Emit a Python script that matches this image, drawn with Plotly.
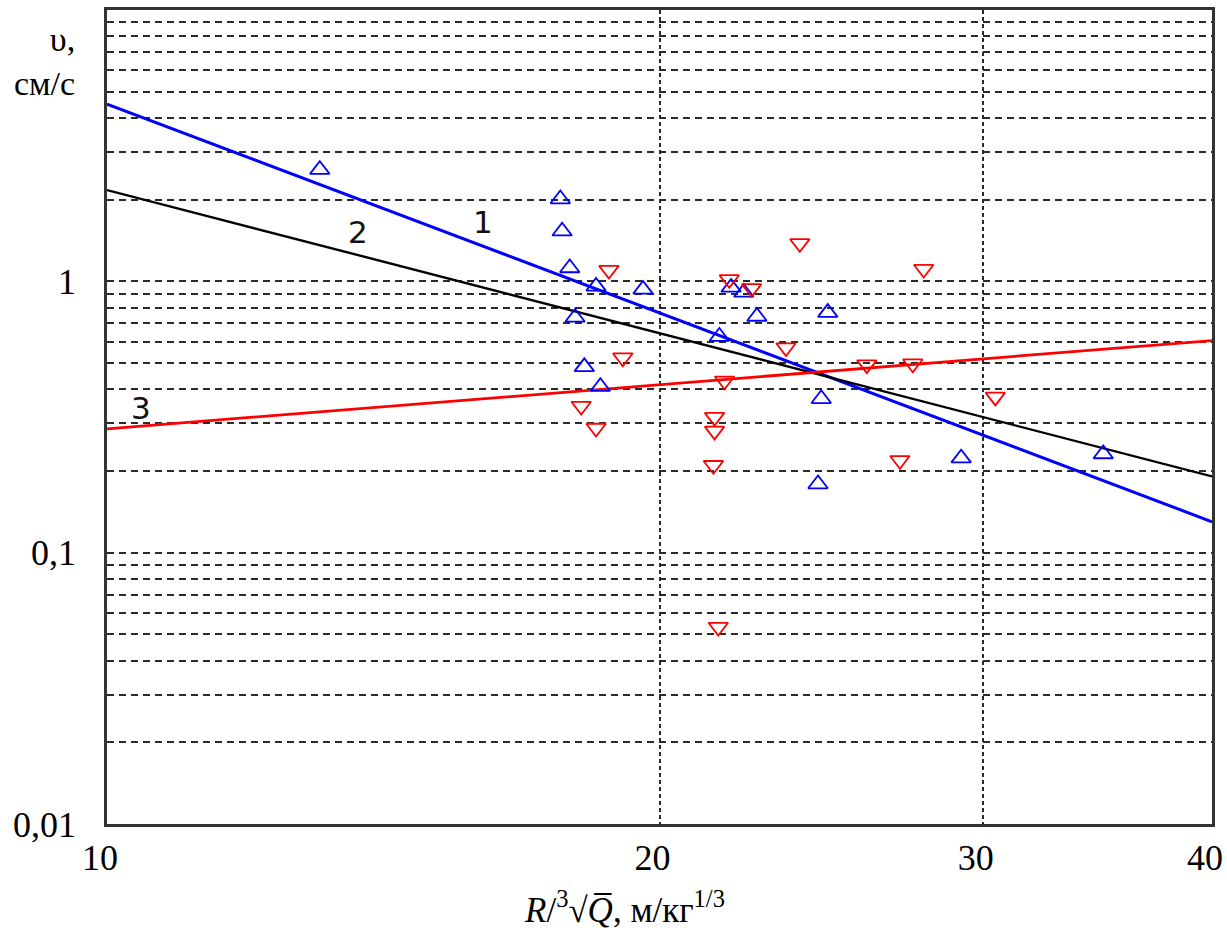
import numpy as np
import plotly.graph_objects as go

# Data
blue_x = [13.06, 17.66, 17.7, 17.87, 18.47, 17.99, 18.2, 18.57, 19.59, 21.56, 21.88, 22.23, 22.6, 24.7, 24.5, 24.4, 29.2, 34.9]
blue_y = [2.58, 2.01, 1.53, 1.12, 0.958, 0.736, 0.484, 0.409, 0.934, 0.626, 0.95, 0.91, 0.742, 0.767, 0.369, 0.179, 0.223, 0.231]

red_x = [18.77, 19.1, 18.13, 18.47, 21.83, 22.45, 23.85, 27.86, 23.44, 21.7, 25.94, 27.48, 21.43, 21.43, 21.4, 27.04, 30.48, 21.53]
red_y = [1.10, 0.523, 0.347, 0.288, 1.017, 0.942, 1.38, 1.11, 0.57, 0.43, 0.493, 0.497, 0.316, 0.281, 0.21, 0.219, 0.375, 0.0532]

line_x = [10, 40]
line1_y = [4.5, 0.13]
line2_y = [2.17, 0.191]
line3_y = [0.286, 0.605]

label_text = ["1", "2", "3"]
label_x = [16.02, 13.7, 10.44]
label_y = [1.654, 1.52, 0.341]

x_ticks = [10, 20, 30, 40]
y_label_ticks = {0.01: "0,01", 0.1: "0,1", 1: "1"}

y_tickvals = []
for dec in [0.01, 0.1, 1]:
    for m in range(1, 10):
        y_tickvals.append(round(dec * m, 4))
y_tickvals.append(10)
y_ticktext = [y_label_ticks.get(v, "") for v in y_tickvals]

fig = go.Figure()
fig.add_trace(go.Scatter(x=line_x, y=line1_y, mode="lines", line=dict(color="#0000ff", width=3), showlegend=False))
fig.add_trace(go.Scatter(x=line_x, y=line2_y, mode="lines", line=dict(color="#000000", width=2.4), showlegend=False))
fig.add_trace(go.Scatter(x=line_x, y=line3_y, mode="lines", line=dict(color="#ff0000", width=2.8), showlegend=False))
fig.add_trace(go.Scatter(x=blue_x, y=blue_y, mode="markers",
                         marker=dict(symbol="triangle-up-open", size=17, color="#0000ff", line=dict(width=1.8, color="#0000ff")),
                         showlegend=False))
fig.add_trace(go.Scatter(x=red_x, y=red_y, mode="markers",
                         marker=dict(symbol="triangle-down-open", size=17, color="#ff0000", line=dict(width=1.8, color="#ff0000")),
                         showlegend=False))

for t, lx, ly in zip(label_text, label_x, label_y):
    fig.add_annotation(x=np.log10(lx), y=np.log10(ly), text=t, showarrow=False,
                       font=dict(family="DejaVu Sans", size=31, color="#111111"))

serif = "'Liberation Serif', 'DejaVu Serif', serif"
fig.add_annotation(xref="paper", yref="paper", x=-0.027, y=0.937, xanchor="right", yanchor="middle",
                   text="υ,<br>см/с", align="right", showarrow=False,
                   font=dict(family=serif, size=34, color="black"))
fig.add_annotation(xref="paper", yref="paper", x=0.468, y=-0.102, xanchor="center", yanchor="middle",
                   text="<i>R</i>/<sup>3</sup>√<i>Q̅</i>, м/кг<sup>1/3</sup>", showarrow=False,
                   font=dict(family=serif, size=35, color="black"))

fig.update_xaxes(type="log", range=[1, np.log10(40) + 1e-6], tickvals=x_ticks, ticktext=[str(v) for v in x_ticks],
                 showgrid=True, gridcolor="#2a2a2a", gridwidth=2, griddash="4px,3px",
                 showline=True, linecolor="#333333", linewidth=2.5, mirror=True, automargin=False,
                 ticks="", zeroline=False, ticklabelstandoff=0, ticklabeloverflow="allow", ticklabelshift=-7,
                 tickfont=dict(family=serif, size=36, color="black"))
fig.update_yaxes(type="log", range=[-2, 1], tickvals=y_tickvals, ticktext=y_ticktext,
                 showgrid=True, gridcolor="#2a2a2a", gridwidth=1.8, griddash="7px,5px",
                 showline=True, linecolor="#333333", linewidth=2.5, mirror=True, automargin=False,
                 ticks="", zeroline=False, ticklabelstandoff=21, ticklabeloverflow="allow",
                 tickfont=dict(family=serif, size=36, color="black"))

fig.update_layout(width=1227, height=931, margin=dict(l=107, r=15, t=10, b=107),
                  plot_bgcolor="white", paper_bgcolor="white")
fig.write_html("out.html")
